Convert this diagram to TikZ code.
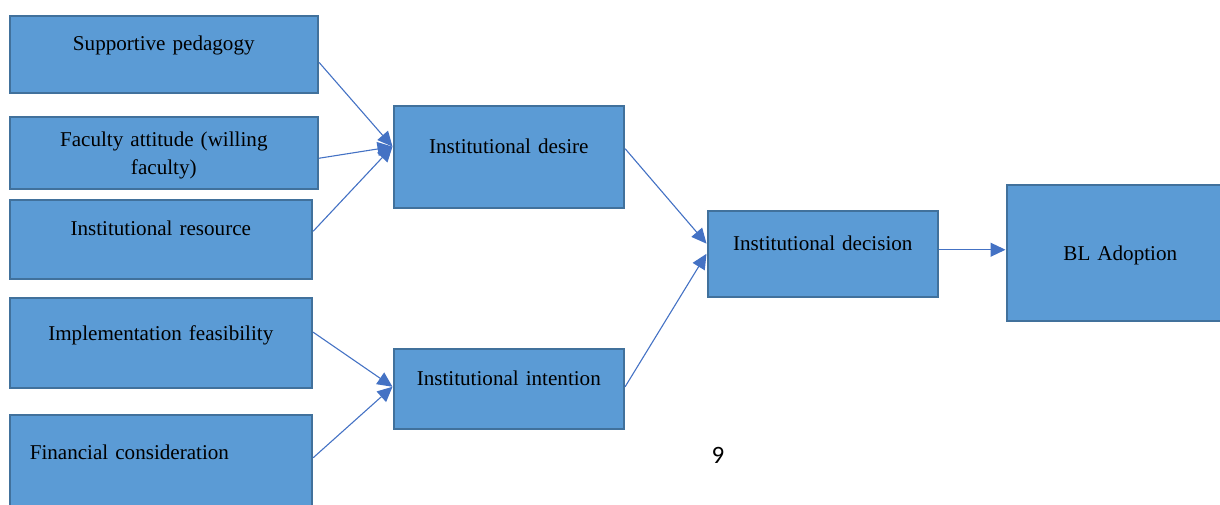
\documentclass[tikz,border=0pt]{standalone}
\usepackage{fontspec}
\setmainfont{Liberation Serif}
\newfontfamily\pagefont{Carlito}
\usetikzlibrary{arrows.meta}

\definecolor{boxfill}{HTML}{5B9BD5}
\definecolor{boxline}{HTML}{41719C}
\definecolor{arrowblue}{HTML}{4472C4}

\tikzset{
  factor/.style={rectangle, draw=boxline, fill=boxfill, line width=1.3pt,
    inner sep=0pt, anchor=north west, align=center,
    font=\fontsize{10.55}{14}\selectfont},
  link/.style={draw=arrowblue, line width=0.55pt,
    -{Triangle[length=7.5pt,width=7pt]}}
}

\begin{document}
\begin{tikzpicture}[x=0.5pt, y=-0.5pt]
  \clip (0,0) rectangle (1220,504);
  \useasboundingbox (0,0) rectangle (1220,504);

  % left column
  \node[factor, text width=154pt, text height=17.5pt, text depth=21pt] (supportive) at (8.5,14.5) {Supportive pedagogy};
  \node[factor, text width=154pt, text height=15pt, text depth=21pt] (faculty) at (8.5,115.5) {Faculty attitude (willing\\faculty)};
  \node[factor, text width=151pt, text height=18pt, text depth=21.5pt] (resource) at (8.5,198.5) {Institutional resource};
  \node[factor, text width=151pt, text height=21.5pt, text depth=23.5pt] (feasibility) at (8.5,296.5) {Implementation feasibility};
  \node[factor, text width=151pt, text height=22.5pt, text depth=28.5pt, align=left] (financial) at (8.5,413.5) {\hspace*{10pt}Financial consideration};

  % middle
  \node[factor, text width=115pt, text height=24pt, text depth=27pt] (desire) at (392.5,104.5) {Institutional desire};
  \node[factor, text width=115pt, text height=18.5pt, text depth=21.5pt] (intention) at (392.5,347.5) {Institutional intention};
  \node[factor, text width=115pt, text height=20pt, text depth=23pt] (decision) at (706.5,209.5) {Institutional decision};
  \node[factor, text width=113.5pt, text height=38pt, text depth=30pt] (adoption) at (1005.5,183.5) {BL Adoption};

  \node[font=\pagefont\fontsize{12.5}{14}\selectfont] (pagenum) at (718,455) {9};

  \draw[link] (supportive.-3) -- (desire.175);
  \draw[link] (faculty.-2) -- (desire.175);
  \draw[link] (resource.3) -- (desire.175);
  \draw[link] (feasibility.4) -- (intention.179);
  \draw[link] (financial.3) -- (intention.179);
  \draw[link] (desire.4) -- (decision.175);
  \draw[link] (intention.1) -- (decision.west);
  \draw[link] (decision.2) -- (decision.2 -| adoption.west);
\end{tikzpicture}
\end{document}
